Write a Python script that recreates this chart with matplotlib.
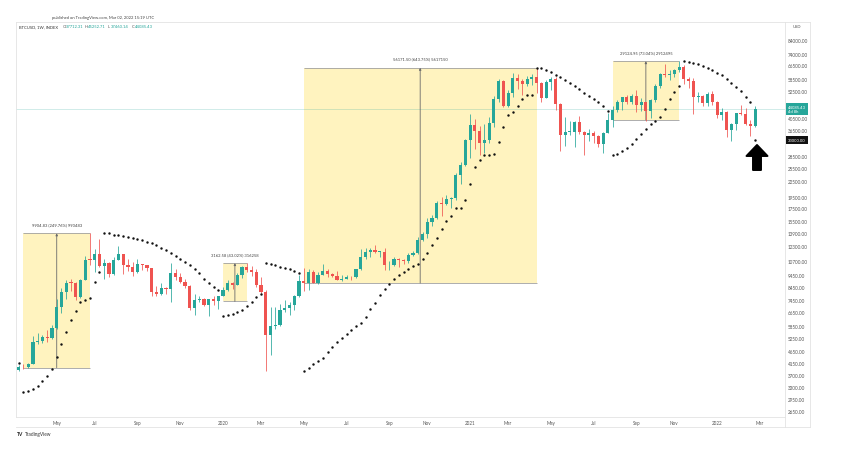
import numpy as np
import pandas as pd
import matplotlib
matplotlib.use("Agg")
import matplotlib.pyplot as plt
import matplotlib.dates as mdates
import matplotlib.transforms as mtransforms
from matplotlib.patches import Rectangle, Polygon
from matplotlib.lines import Line2D
from matplotlib.ticker import FixedLocator, NullLocator

plt.rcParams["font.family"] = ["Lato", "DejaVu Sans"]

UP = "#26a69a"
DOWN = "#ef5350"
W, H = 842, 452

# BTCUSD weekly candles (week starting Monday)
first_week = "2019-03-11"
opens = [3870, 3990, 3980, 4100, 5050, 5070, 5290, 5210, 5740, 6970,
         8000, 8740, 8730, 7650, 8980, 10850, 10800, 11450, 10250, 10540,
         9530, 10820, 11390, 10300, 10150, 9630, 10400, 10300, 10000, 8050,
         7880, 8300, 8230, 9550, 9200, 8800, 8500, 6900, 7420, 7510,
         7100, 7510, 7390, 7760, 8180, 8700, 8600, 9380, 10150, 9900,
         9700, 8550, 8040, 5360, 5830, 5880, 6780, 6900, 7120, 7700,
         8900, 8720, 9680, 8720, 9450, 9750, 9470, 9300, 9000, 9080,
         9230, 9200, 9930, 11100, 11700, 11850, 11650, 11700, 10300, 10330,
         10930, 10780, 10680, 11380, 11500, 13030, 13800, 15480, 15960, 18400,
         18180, 19150, 19270, 23800, 26300, 33000, 38150, 36000, 32300, 33100,
         38900, 48600, 57500, 45240, 51200, 59000, 57500, 55800, 58200, 59800,
         56200, 49100, 56600, 58300, 46400, 34700, 35650, 35800, 39100, 35500,
         34700, 35300, 34250, 31800, 35400, 39850, 43800, 47100, 49300, 47150,
         49900, 46060, 47260, 43170, 48200, 54700, 61500, 60900, 61300, 63300,
         65500, 58700, 57300, 49400, 50100, 46700, 50800, 47300, 41800, 43100,
         36300, 38500, 42400, 42200, 38400, 37712.31]
highs = [4050, 4090, 4130, 5330, 5470, 5380, 5630, 5900, 7500, 8350,
         8950, 9090, 8800, 9100, 11200, 13880, 12000, 13150, 10950, 10650,
         11100, 12320, 11450, 10950, 10650, 10900, 10450, 10350, 10050, 8500,
         8700, 8420, 10500, 9940, 9550, 9050, 8550, 7850, 7750, 7580,
         7520, 7700, 7580, 8450, 9000, 8800, 9550, 10200, 10514, 10250,
         9950, 9200, 8150, 6950, 6950, 7200, 7450, 7300, 7800, 9450,
         10000, 9950, 9900, 9700, 10400, 9990, 9600, 9800, 9400, 9450,
         9300, 9950, 12000, 12100, 12100, 12450, 11800, 12100, 10700, 11150,
         11050, 10950, 11500, 11750, 13350, 14100, 15950, 16450, 18800, 19450,
         19900, 19420, 24250, 27000, 33300, 42000, 40100, 37800, 38550, 40900,
         49700, 58350, 58000, 52600, 61800, 61000, 58400, 60200, 61300, 64897,
         57000, 58000, 59600, 59600, 46600, 40900, 39500, 39500, 41300, 36000,
         36600, 35900, 34700, 35500, 42600, 45300, 48100, 49400, 50500, 51000,
         52900, 48800, 47300, 48400, 56000, 62000, 67000, 63700, 64300, 69000,
         66300, 59300, 59100, 51900, 50200, 51800, 52100, 47600, 44500, 43500,
         38900, 42700, 45800, 44700, 40000, 45252.71]
lows = [3830, 3900, 3940, 4090, 4940, 5000, 5060, 5170, 5700, 6600,
        7500, 8100, 7450, 7600, 8950, 10350, 9650, 10100, 9100, 9200,
        9400, 10800, 9500, 9750, 9350, 9600, 9900, 9800, 7700, 7750,
        7800, 7900, 7300, 8950, 8700, 8350, 6800, 6500, 7300, 7050,
        6430, 7100, 6850, 7700, 8100, 8250, 8550, 9150, 9700, 9300,
        8450, 7950, 3850, 4450, 5700, 5850, 6650, 6500, 6800, 7650,
        8100, 8200, 8700, 8650, 9400, 9250, 9200, 8950, 8900, 9050,
        9000, 9150, 9900, 10950, 11100, 11500, 11150, 9900, 9900, 10200,
        10150, 10400, 10550, 11200, 11400, 12900, 13300, 14850, 15850, 16300,
        18100, 17600, 19000, 22000, 26000, 28000, 30400, 28900, 29200, 32300,
        37400, 47000, 44900, 44900, 49300, 53300, 50400, 54800, 55500, 51500,
        47000, 48800, 52900, 43800, 30000, 31200, 34800, 31000, 34900, 28800,
        32700, 32200, 31000, 29300, 35300, 37500, 42800, 43900, 46300, 46500,
        43000, 43400, 39600, 40800, 47100, 53900, 59600, 58000, 59500, 62300,
        55600, 53500, 42000, 47000, 45500, 45600, 45900, 40600, 39700, 34000,
        32900, 36300, 41700, 38000, 34300, 37460.14]
closes = [3990, 3980, 4100, 5050, 5070, 5290, 5210, 5740, 6970, 8000,
          8740, 8730, 7650, 8980, 10850, 10800, 11450, 10250, 10540, 9530,
          10820, 11390, 10300, 10150, 9630, 10400, 10300, 10000, 8050, 7880,
          8300, 8230, 9550, 9200, 8800, 8500, 6900, 7420, 7510, 7100,
          7510, 7390, 7760, 8180, 8700, 8600, 9380, 10150, 9900, 9700,
          8550, 8040, 5360, 5830, 5880, 6780, 6900, 7120, 7700, 8900,
          8720, 9680, 8720, 9450, 9750, 9470, 9300, 9000, 9080, 9230,
          9200, 9930, 11100, 11700, 11850, 11650, 11700, 10300, 10330, 10930,
          10780, 10680, 11380, 11500, 13030, 13800, 15480, 15960, 18400, 18180,
          19150, 19270, 23800, 26300, 33000, 38150, 36000, 32300, 33100, 38900,
          48600, 57500, 45240, 51200, 59000, 57500, 55800, 58200, 59800, 56200,
          49100, 56600, 58300, 46400, 34700, 35650, 35800, 39100, 35500, 34700,
          35300, 34250, 31800, 35400, 39850, 43800, 47100, 49300, 47150, 49900,
          46060, 47260, 43170, 48200, 54700, 61500, 60900, 61300, 63300, 65500,
          58700, 57300, 49400, 50100, 46700, 50800, 47300, 41800, 43100, 36300,
          38500, 42400, 42200, 38400, 37700, 44085.43]
# Parabolic SAR dots, one per week
sar = [4130, 3150, 3200, 3250, 3350, 3490, 3680, 3915, 4370, 4950,
       5520, 6200, 6730, 7290, 7470, 7560, 8840, 9700, 13880, 13850,
       13720, 13630, 13500, 13370, 13250, 13130, 13010, 12850, 12640, 12400,
       12120, 11860, 11560, 11280, 10970, 10640, 10290, 9910, 9550, 9080,
       8700, 8400, 8150, 6430, 6490, 6570, 6680, 6805, 7020, 7290,
       7650, 7900, 10500, 10420, 10300, 10180, 10060, 9920, 9770, 9600,
       3850, 3973, 4094, 4212, 4328, 4571, 4804, 5028, 5243, 5449,
       5647, 5837, 6020, 6379, 6837, 7258, 7777, 8244, 8665, 9044,
       9384, 9691, 9967, 10215, 10439, 10950, 11570, 12410, 13330, 14490,
       15550, 16300, 17490, 17490, 19010, 21870, 25770, 27590, 28720, 28720,
       29100, 32340, 37300, 41600, 42960, 45410, 48480, 50320, 50320, 64900,
       64600, 63300, 62100, 60800, 59300, 57700, 56300, 54600, 53100, 51500,
       50000, 48500, 47000, 45300, 43500, 28800, 29030, 29760, 30620, 31870,
       33400, 35000, 36700, 38450, 39650, 40880, 44390, 48500, 51800, 54600,
       68900, 68450, 67800, 66990, 65940, 64720, 63530, 61950, 60470, 58580,
       56430, 54370, 52090, 49530, 47010, 33000]

# price range measurements
box_start = ["2019-03-18", "2020-01-06", "2020-05-04", "2021-08-02"]
box_end = ["2019-06-24", "2020-02-10", "2021-04-12", "2021-11-08"]
box_low = [3966.0, 7351.6, 8725.7, 39875.1]
box_high = [13870.8, 10514.2, 64897.2, 69000.0]
box_text = ["9904.83 (249.76%) 990483", "3162.58 (43.02%) 316258",
            "56171.50 (643.75%) 5617150", "29124.95 (73.04%) 2912495"]

month_ticks = ["2019-05-06", "2019-07-01", "2019-09-02", "2019-11-04", "2020-01-06",
               "2020-03-02", "2020-05-04", "2020-07-06", "2020-09-07", "2020-11-02",
               "2021-01-04", "2021-03-01", "2021-05-03", "2021-07-05", "2021-09-06",
               "2021-11-01", "2022-01-03", "2022-03-07"]
month_labels = ["May", "Jul", "Sep", "Nov", "2020", "Mar", "May", "Jul", "Sep", "Nov",
                "2021", "Mar", "May", "Jul", "Sep", "Nov", "2022", "Mar"]
price_ticks = [84000, 74000, 66500, 58500, 52500, 46500, 40500, 36500, 28500, 25500,
               22500, 19500, 17500, 15500, 13900, 12300, 10700, 9450, 8450, 7450,
               6650, 5850, 5250, 4650, 4150, 3700, 3300, 2950, 2650]

last_price = 44085.43
sar_price = 33000.00

fig = plt.figure(figsize=(W / 100, H / 100), dpi=100)
fig.patch.set_facecolor("white")
ax = fig.add_axes([16 / W, 1 - 418 / H, (785 - 16) / W, (418 - 23) / H])

dates = pd.date_range(first_week, periods=len(closes), freq="7D")
x = mdates.date2num(dates.to_pydatetime())
o, h, l, c = (np.array(v, dtype=float) for v in (opens, highs, lows, closes))

ax.set_yscale("log")
ax.set_ylim(2505, 99400)
ax.set_xlim(mdates.date2num(pd.Timestamp("2019-03-07")),
            mdates.date2num(pd.Timestamp("2022-04-13")))

# measurement boxes
for s, e, lo, hi, t in zip(box_start, box_end, box_low, box_high, box_text):
    x0 = mdates.date2num(pd.Timestamp(s))
    x1 = mdates.date2num(pd.Timestamp(e))
    ax.add_patch(Rectangle((x0, lo), x1 - x0, hi - lo, facecolor="#fff3bf",
                           edgecolor="none", zorder=1))
    ax.hlines([lo, hi], x0, x1, colors="#a0a0a0", lw=0.6, zorder=2)
    xm = (x0 + x1) / 2
    ax.annotate("", xy=(xm, hi), xytext=(xm, lo),
                arrowprops=dict(arrowstyle="-|>", color="#6a6a6a", lw=0.6,
                                mutation_scale=3, shrinkA=0, shrinkB=0), zorder=2)
    ax.annotate(t, xy=(xm, hi), xytext=(0, 6.5), textcoords="offset points",
                ha="center", va="center", fontsize=3, color="#444444")

ax.axhline(last_price, color=UP, lw=0.5, alpha=0.3, zorder=1)

# candles
col = np.where(c >= o, UP, DOWN)
ax.vlines(x, l, h, colors=col, lw=0.55, zorder=3)
blo = np.minimum(o, c)
bhi = np.maximum(np.maximum(o, c), blo * 1.007)
ax.bar(x, bhi - blo, bottom=blo, width=4.6, color=col, linewidth=0, zorder=4)

# parabolic SAR
ax.plot(x, sar, "o", ms=1.75, mew=0, color="#111111", ls="none", zorder=5)

# axes styling
ax.yaxis.tick_right()
ax.yaxis.set_major_locator(FixedLocator(price_ticks))
ax.yaxis.set_minor_locator(NullLocator())
ax.set_yticklabels([f"{v:.2f}" for v in price_ticks])
ax.xaxis.set_major_locator(FixedLocator([mdates.date2num(pd.Timestamp(d)) for d in month_ticks]))
ax.xaxis.set_minor_locator(NullLocator())
ax.set_xticklabels(month_labels)
ax.tick_params(axis="both", length=0, labelsize=3.3, colors="#555555")
ax.tick_params(axis="y", pad=2.2)
ax.tick_params(axis="x", pad=2.2)
for sp in ax.spines.values():
    sp.set_color("#e3e3e3")
    sp.set_linewidth(0.6)

# outer frame
def fline(xs, ys):
    fig.add_artist(Line2D([v / W for v in xs], [1 - v / H for v in ys],
                          color="#e3e3e3", lw=0.6))

fline([16, 810], [428, 428])
fline([810, 810], [23, 428])
fline([785, 810], [23, 23])
fline([785, 785], [418, 428])

# price labels on the scale
blend = mtransforms.blended_transform_factory(ax.transAxes, ax.transData)
ax.text(1.004, last_price, "44085.43\n4d 8h", transform=blend, ha="left", va="center",
        fontsize=3, color="white", linespacing=1.1, clip_on=False, zorder=6,
        bbox=dict(boxstyle="square,pad=0.45", facecolor=UP, edgecolor="none"))
ax.text(1.004, sar_price, f"{sar_price:.2f}", transform=blend, ha="left", va="center",
        fontsize=3, color="white", clip_on=False, zorder=6,
        bbox=dict(boxstyle="square,pad=0.45", facecolor="#111111", edgecolor="none"))

# big arrow under the last candle
arrow = [(757, 146), (767.5, 157), (761, 157), (761, 171), (753, 171), (753, 157), (746.5, 157)]
fig.add_artist(Polygon([(px / W, 1 - py / H) for px, py in arrow], closed=True,
                       facecolor="black", edgecolor="black", lw=1.4, joinstyle="round"))

# header texts
fig.text(103 / W, 1 - 18 / H, "published on TradingView.com, Mar 02, 2022 15:19 UTC",
         ha="center", va="center", fontsize=3, color="#444444")
fig.text(19 / W, 1 - 27.5 / H, "BTCUSD, 1W, INDEX", ha="left", va="center",
         fontsize=3, color="#333333")
for px, k, v in [(63, "O", "37712.31"), (85, "H", "45252.71"),
                 (108, "L", "37460.14"), (132, "C", "44085.43")]:
    fig.text(px / W, 1 - 27.5 / H, k, ha="left", va="center", fontsize=3, color="#555555")
    fig.text((px + 2.6) / W, 1 - 27.5 / H, v, ha="left", va="center", fontsize=3, color=UP)
fig.text(797 / W, 1 - 26.5 / H, "USD", ha="center", va="center", fontsize=3, color="#555555")

# logo
fig.text(17 / W, 1 - 434.5 / H, "TV", ha="left", va="center", fontsize=3.6,
         fontweight="bold", color="#222222")
fig.text(24.5 / W, 1 - 434.5 / H, "TradingView", ha="left", va="center",
         fontsize=3.4, color="#333333")

fig.savefig("out.png", dpi=100)
